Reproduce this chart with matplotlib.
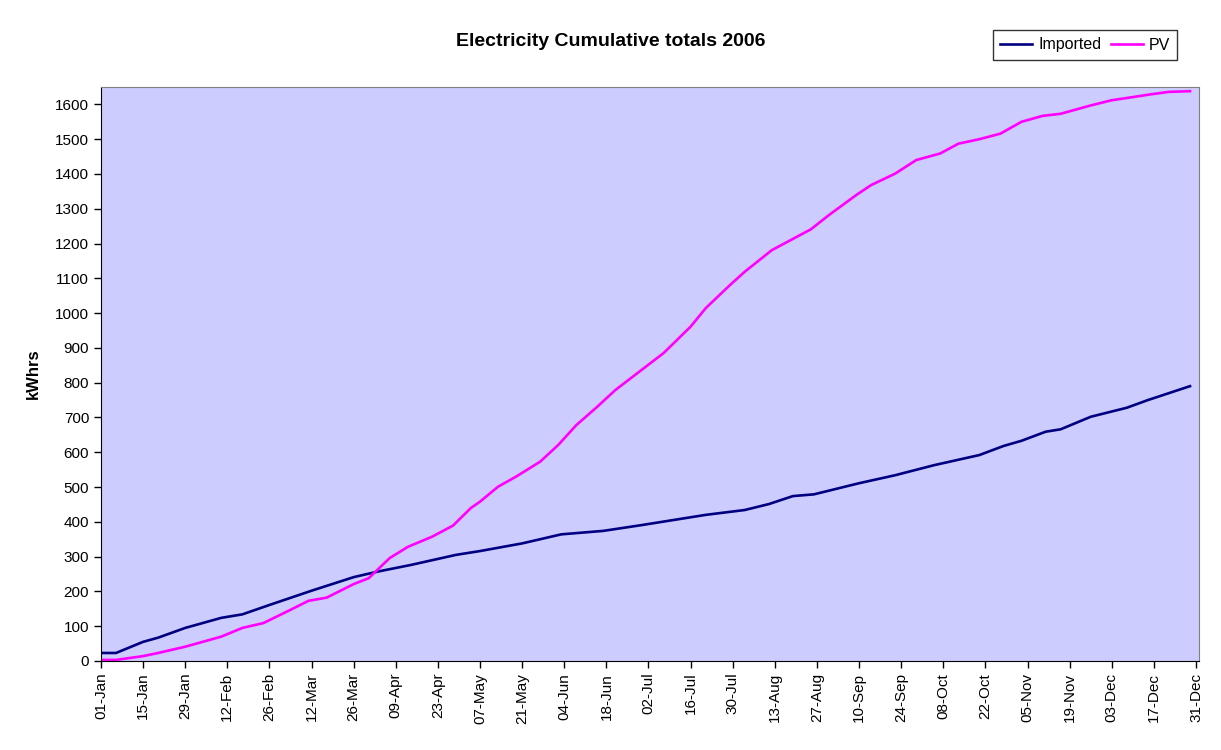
import pandas as pd
import numpy as np
import matplotlib
matplotlib.use('Agg')
import matplotlib.pyplot as plt
import matplotlib.dates as mdates

plt.rcParams['font.family'] = ['Liberation Sans', 'DejaVu Sans']

# day of year (0 = 01-Jan) and cumulative kWh
imp_days = [0, 5, 14, 19, 28, 40, 47, 56, 70, 84, 92, 103, 118, 126, 140, 153, 167, 180,
            201, 214, 222, 230, 237, 252, 264, 277, 292, 300, 306, 314, 319, 329, 341, 348, 362]
imp_vals = [23, 23, 55, 67, 95, 124, 134, 161, 202, 241, 257, 276, 305, 316, 338, 364, 374, 391,
            420, 434, 451, 474, 479, 511, 534, 563, 592, 618, 633, 659, 666, 702, 728, 750, 790]

pv_days = [0, 5, 14, 19, 28, 40, 47, 54, 63, 69, 75, 84, 89, 96, 102, 110, 117, 123, 126, 132,
           138, 146, 152, 158, 165, 171, 179, 187, 196, 201, 209, 214, 223, 236, 242, 251, 256,
           264, 271, 279, 285, 292, 299, 306, 313, 319, 329, 336, 343, 349, 355, 362]
pv_vals = [3, 3, 14, 23, 41, 70, 95, 109, 147, 173, 182, 221, 238, 296, 328, 357, 389, 440, 458, 501,
           530, 573, 621, 678, 731, 779, 832, 885, 961, 1014, 1080, 1119, 1181, 1241, 1282, 1339, 1368,
           1401, 1440, 1459, 1487, 1500, 1516, 1550, 1567, 1573, 1597, 1612, 1621, 1629, 1636, 1638]

start = pd.Timestamp('2006-01-01')
imp_dates = start + pd.to_timedelta(imp_days, unit='D')
pv_dates = start + pd.to_timedelta(pv_days, unit='D')
tick_dates = pd.date_range('2006-01-01', '2006-12-31', freq='14D')

fig = plt.figure(figsize=(12.21, 7.5), dpi=100)
ax = fig.add_axes([0.0827, 0.1187, 0.8993, 0.7653])
ax.set_facecolor('#CCCCFF')

ax.plot(imp_dates, imp_vals, color='#000080', lw=1.9, label='Imported')
ax.plot(pv_dates, pv_vals, color='#FF00FF', lw=1.9, label='PV')

ax.set_xlim(start, start + pd.Timedelta(days=365))
ax.set_ylim(0, 1650)
ax.set_yticks(np.arange(0, 1700, 100))
ax.set_xticks(tick_dates)
ax.xaxis.set_major_formatter(mdates.DateFormatter('%d-%b'))
plt.setp(ax.get_xticklabels(), rotation=90)
ax.tick_params(labelsize=11, length=5, width=1, color='black', direction='out')

for side in ['top', 'right']:
    ax.spines[side].set_color('#808080')
for side in ['left', 'bottom']:
    ax.spines[side].set_color('black')

ax.set_ylabel('kWhrs', fontsize=12, fontweight='bold', labelpad=10)
fig.text(0.5, 0.945, 'Electricity Cumulative totals 2006', ha='center', va='center',
         fontsize=14, fontweight='bold')

leg = fig.legend(loc='center', bbox_to_anchor=(1085 / 1221, 1 - 45 / 750), ncol=2,
                 fontsize=11.5, frameon=True, fancybox=False, handlelength=2.0,
                 columnspacing=0.6, handletextpad=0.35, borderpad=0.45, borderaxespad=0)
leg.get_frame().set_edgecolor('black')
leg.get_frame().set_linewidth(1)

fig.savefig('out.png', dpi=100)
